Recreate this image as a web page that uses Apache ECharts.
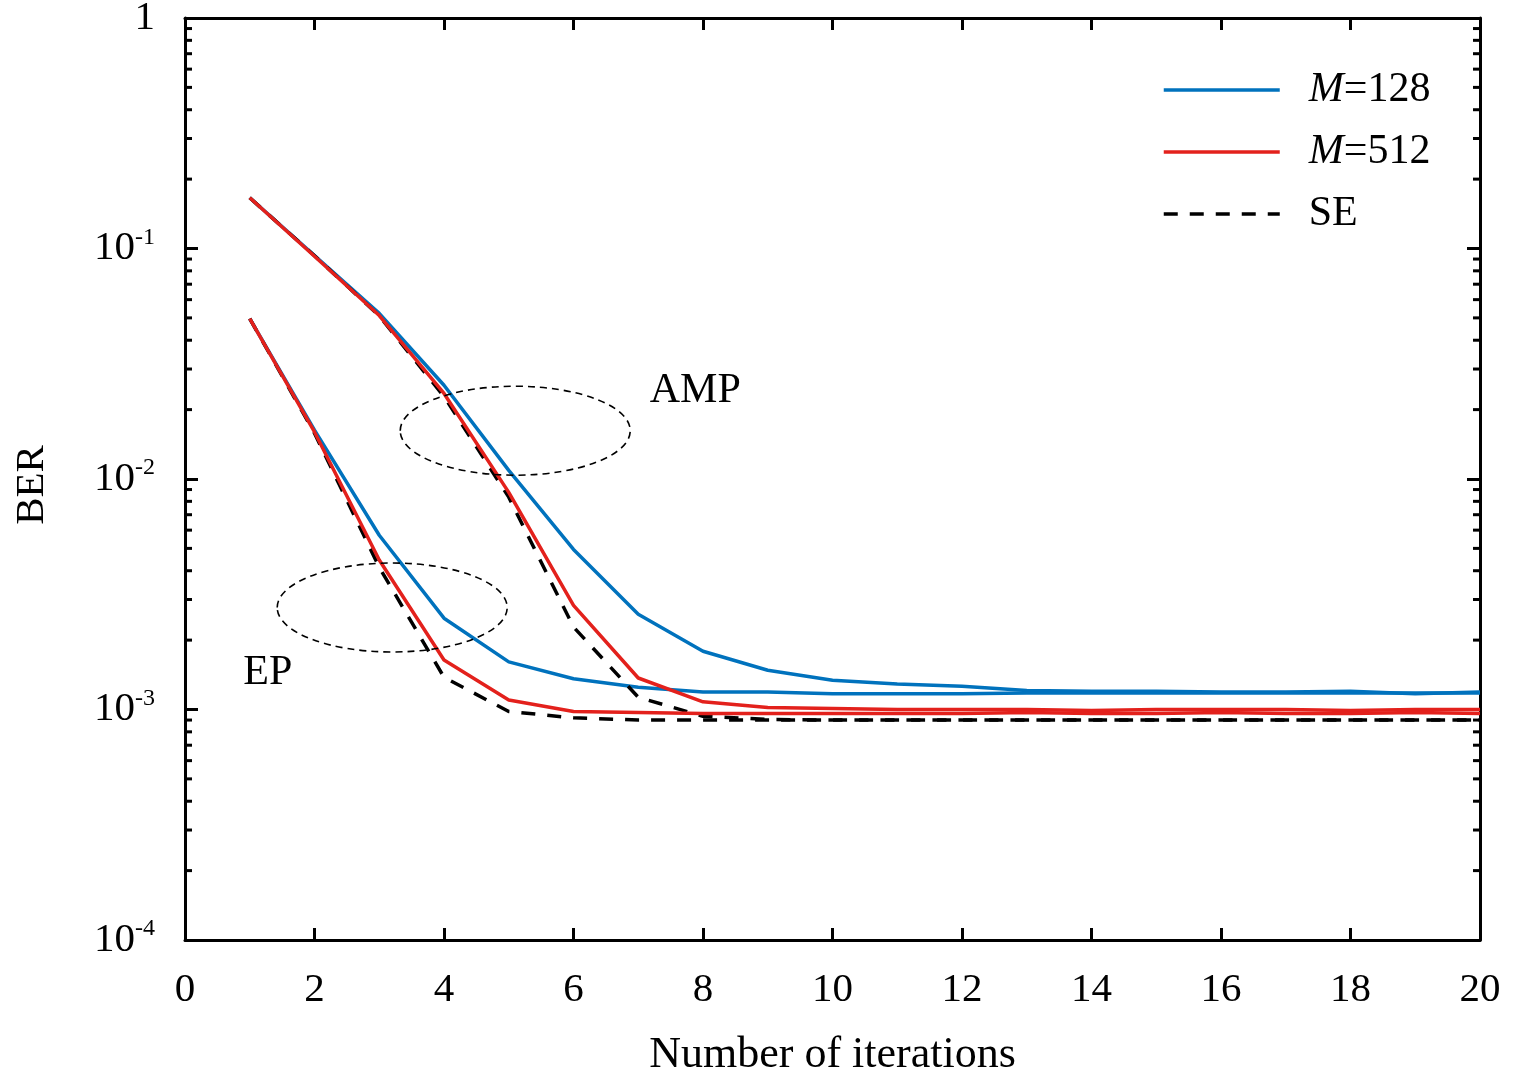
<!DOCTYPE html>
<html>
<head>
<meta charset="utf-8">
<script src="https://cdn.jsdelivr.net/npm/echarts@6/dist/echarts.min.js"></script>
<style>
html, body { margin: 0; padding: 0; background: #ffffff; }
#chart { width: 1519px; height: 1076px; }
</style>
</head>
<body>
<div id="chart"></div>
<script>
// BER versus detector iteration count, AMP and EP detectors, two antenna counts plus state evolution
const iterations = [1, 2, 3, 4, 5, 6, 7, 8, 9, 10, 11, 12, 13, 14, 15, 16, 17, 18, 19, 20];

const ampM128 = [0.166, 0.0933, 0.0523, 0.0255, 0.0109, 0.00495, 0.00259, 0.00179, 0.00148, 0.00134,
                 0.00129, 0.00126, 0.00121, 0.0012, 0.0012, 0.00119, 0.00119, 0.0012, 0.00117, 0.00119];
const ampM512 = [0.166, 0.0925, 0.0512, 0.0235, 0.00875, 0.00283, 0.00137, 0.00108, 0.00102, 0.00101,
                 0.001, 0.001, 0.001, 0.00099, 0.001, 0.001, 0.001, 0.00099, 0.001, 0.001];
const ampSE   = [0.166, 0.093, 0.051, 0.0228, 0.00834, 0.00228, 0.00113, 0.000935, 0.000905, 0.0009,
                 0.0009, 0.0009, 0.0009, 0.0009, 0.0009, 0.0009, 0.0009, 0.0009, 0.0009, 0.0009];
const epM128  = [0.0496, 0.0163, 0.0057, 0.00249, 0.00161, 0.00136, 0.00125, 0.00119, 0.00119, 0.00117,
                 0.00117, 0.00117, 0.00118, 0.00118, 0.00118, 0.00118, 0.00118, 0.00118, 0.00118, 0.00118];
const epM512  = [0.0496, 0.016, 0.00445, 0.00164, 0.0011, 0.00098, 0.00097, 0.00096, 0.00096, 0.00096,
                 0.00096, 0.00096, 0.00097, 0.00096, 0.00096, 0.00097, 0.00096, 0.00096, 0.00097, 0.00096];
const epSE    = [0.0496, 0.0158, 0.00414, 0.00138, 0.00098, 0.00092, 0.0009, 0.0009, 0.0009, 0.0009,
                 0.0009, 0.0009, 0.0009, 0.0009, 0.0009, 0.0009, 0.0009, 0.0009, 0.0009, 0.0009];

const legendNames = ['M=128', 'M=512', 'SE'];
const xRange = [0, 20];
const xStep = 2;
const yRange = [1e-4, 1];
const minorMultipliers = [2, 3, 4, 5, 6, 7, 8, 9];

// group outlines and their labels, in data coordinates
const groupOutlines = [
  { name: 'AMP', center: [5.1, 0.0162], halfWidth: 1.776, halfDecades: 0.193, label: [7.88, 0.0242] },
  { name: 'EP',  center: [3.2, 0.00277], halfWidth: 1.776, halfDecades: 0.193, label: [1.28, 0.00144] }
];

const FONT = "'Liberation Serif', 'Times New Roman', serif";
const BLUE = '#0072BD';
const RED = '#E3211C';
const LINE_W = 3.5;

const pairs = ys => iterations.map((x, i) => [x, ys[i]]);

const chart = echarts.init(document.getElementById('chart'), null, { renderer: 'canvas' });

function lineSeries(name, ys, color, dashed) {
  return {
    type: 'line',
    name: name,
    data: pairs(ys),
    symbol: 'none',
    smooth: false,
    lineStyle: { color: color, width: LINE_W, type: dashed ? [14, 12] : 'solid' },
    itemStyle: { color: color },
    emphasis: { disabled: true },
    animation: false
  };
}

const axisLineStyle = { color: '#000', width: 3 };

chart.setOption({
  animation: false,
  backgroundColor: '#ffffff',
  grid: { left: 185, right: 39, top: 18, bottom: 136, containLabel: false, outerBoundsMode: 'none' },
  legend: {
    orient: 'vertical',
    left: 1162,
    top: 66,
    padding: 0,
    itemWidth: 116,
    itemHeight: 20,
    itemGap: 14,
    data: legendNames,
    selectedMode: false,
    itemStyle: { opacity: 0, borderWidth: 0 },
    lineStyle: { width: LINE_W },
    formatter: name => {
      const parts = name.split('=');
      return parts.length > 1 ? '{i|' + parts[0] + '}{n|=' + parts[1] + '}' : '{n|' + name + '}';
    },
    textStyle: {
      fontFamily: FONT, fontSize: 42, lineHeight: 48, color: '#000', padding: [0, 0, 0, 24],
      rich: {
        i: { fontFamily: FONT, fontSize: 42, lineHeight: 48, fontStyle: 'italic', color: '#000' },
        n: { fontFamily: FONT, fontSize: 42, lineHeight: 48, color: '#000' }
      }
    }
  },
  xAxis: [
    {
      type: 'value', position: 'bottom', min: xRange[0], max: xRange[1], interval: xStep,
      name: 'Number of iterations', nameLocation: 'middle', nameGap: 93,
      nameTextStyle: { fontFamily: FONT, fontSize: 44, color: '#000' },
      axisLine: { show: true, onZero: false, lineStyle: axisLineStyle },
      axisTick: { show: true, inside: true, length: 12, lineStyle: { color: '#000', width: 3 } },
      axisLabel: { show: true, margin: 30, fontFamily: FONT, fontSize: 41, color: '#000' },
      splitLine: { show: false }
    },
    {
      type: 'value', position: 'top', min: xRange[0], max: xRange[1], interval: xStep,
      axisLine: { show: true, onZero: false, lineStyle: axisLineStyle },
      axisTick: { show: true, inside: true, length: 12, lineStyle: { color: '#000', width: 3 } },
      axisLabel: { show: false },
      splitLine: { show: false }
    }
  ],
  yAxis: [
    {
      type: 'log', logBase: 10, position: 'left', min: yRange[0], max: yRange[1],
      name: 'BER', nameLocation: 'middle', nameGap: 132, nameRotate: 90,
      nameTextStyle: { fontFamily: FONT, fontSize: 41, color: '#000', padding: [0, 12, 0, 0] },
      axisLine: { show: true, onZero: false, lineStyle: axisLineStyle },
      axisTick: { show: true, inside: true, length: 13, lineStyle: { color: '#000', width: 3 } },
      minorTick: { show: false },
      axisLabel: {
        show: true, margin: 30, color: '#000',
        formatter: v => {
          const e = Math.round(Math.log10(v));
          return e === 0 ? '{b|1}' : '{b|10}{s|' + e + '}';
        },
        rich: {
          b: { fontFamily: FONT, fontSize: 41, lineHeight: 46, color: '#000' },
          s: { fontFamily: FONT, fontSize: 24, lineHeight: 24, verticalAlign: 'top', color: '#000' }
        }
      },
      splitLine: { show: false }
    },
    {
      type: 'log', logBase: 10, position: 'right', min: yRange[0], max: yRange[1],
      axisLine: { show: true, onZero: false, lineStyle: axisLineStyle },
      axisTick: { show: true, inside: true, length: 13, lineStyle: { color: '#000', width: 3 } },
      axisLabel: { show: false },
      splitLine: { show: false }
    }
  ],
  series: [
    lineSeries('M=128', ampM128, BLUE, false),
    lineSeries('M=128', epM128, BLUE, false),
    lineSeries('SE', ampSE, '#000', true),
    lineSeries('SE', epSE, '#000', true),
    lineSeries('M=512', ampM512, RED, false),
    lineSeries('M=512', epM512, RED, false)
  ]
});

// minor log ticks on both vertical axes, group outlines and group labels
function drawOverlays() {
  const elements = [];
  const leftX = chart.convertToPixel({ xAxisIndex: 0 }, xRange[0]);
  const rightX = chart.convertToPixel({ xAxisIndex: 0 }, xRange[1]);
  const dMin = Math.round(Math.log10(yRange[0]));
  const dMax = Math.round(Math.log10(yRange[1]));
  for (let d = dMin; d < dMax; d++) {
    minorMultipliers.forEach(k => {
      const py = chart.convertToPixel({ yAxisIndex: 0 }, k * Math.pow(10, d));
      elements.push({ type: 'line', silent: true, z: 50,
        shape: { x1: leftX, y1: py, x2: leftX + 7, y2: py },
        style: { stroke: '#000', lineWidth: 3 } });
      elements.push({ type: 'line', silent: true, z: 50,
        shape: { x1: rightX - 7, y1: py, x2: rightX, y2: py },
        style: { stroke: '#000', lineWidth: 3 } });
    });
  }
  groupOutlines.forEach(g => {
    const c = chart.convertToPixel({ gridIndex: 0 }, g.center);
    const edgeX = chart.convertToPixel({ xAxisIndex: 0 }, g.center[0] + g.halfWidth);
    const edgeY = chart.convertToPixel({ yAxisIndex: 0 }, g.center[1] * Math.pow(10, g.halfDecades));
    elements.push({ type: 'ellipse', silent: true, z: 40,
      shape: { cx: c[0], cy: c[1], rx: Math.abs(edgeX - c[0]), ry: Math.abs(c[1] - edgeY) },
      style: { fill: 'none', stroke: '#000', lineWidth: 1.6, lineDash: [7, 5] } });
    const lp = chart.convertToPixel({ gridIndex: 0 }, g.label);
    elements.push({ type: 'text', silent: true, z: 60, x: lp[0], y: lp[1],
      style: { text: g.name, fontFamily: FONT, fontSize: 42, fill: '#000', align: 'center', verticalAlign: 'middle' } });
  });
  chart.setOption({ graphic: { elements: elements } });
}
drawOverlays();
</script>
</body>
</html>
